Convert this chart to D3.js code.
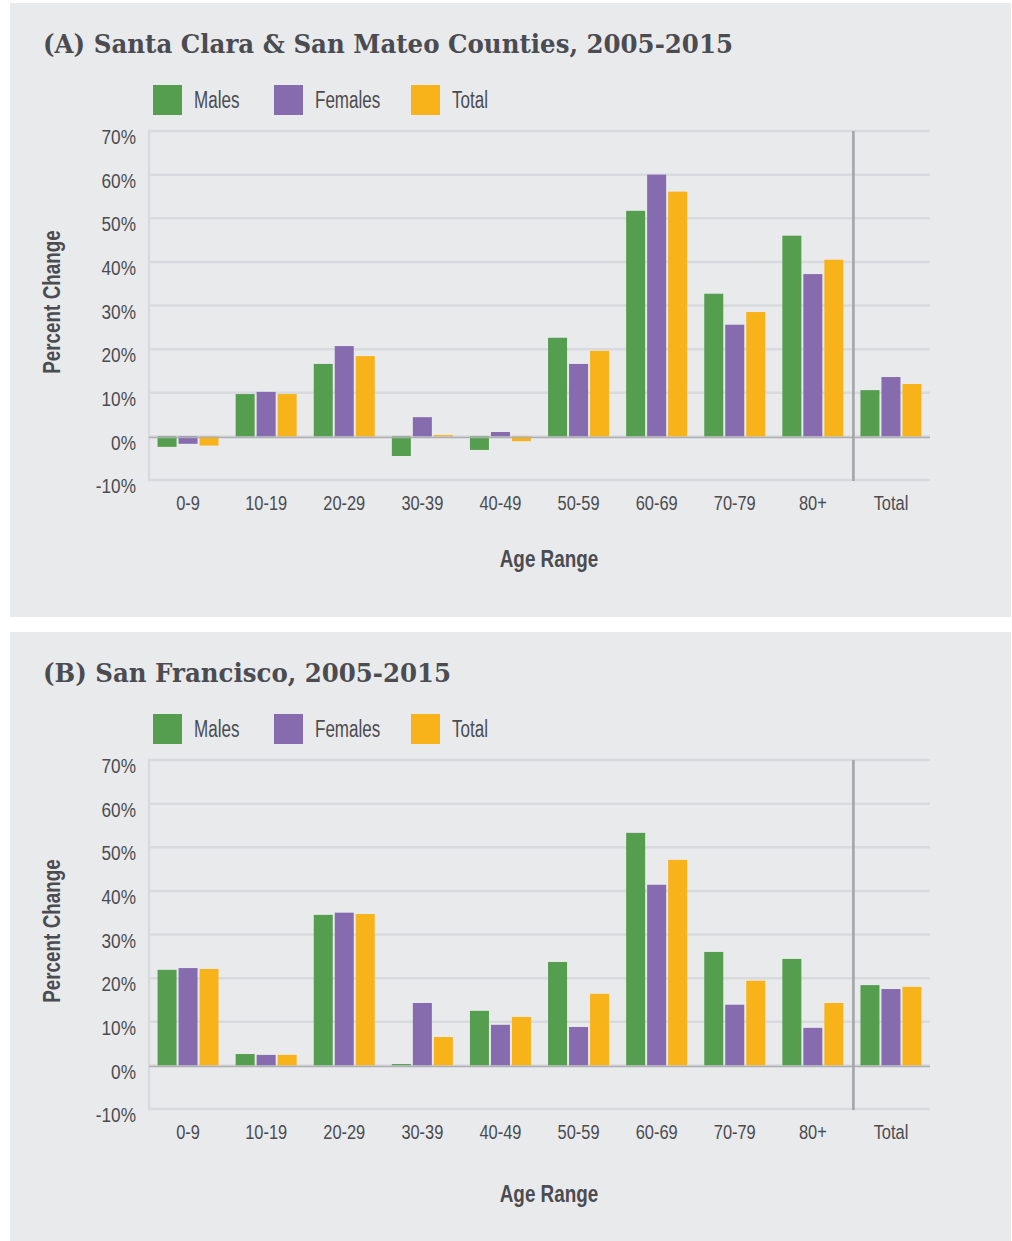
<!DOCTYPE html>
<html>
<head>
<meta charset="utf-8">
<script src="https://cdn.jsdelivr.net/npm/d3@7"></script>
<style>
  html, body { margin: 0; padding: 0; background: #ffffff; }
  svg { display: block; }
  .narrow { font-family: "Liberation Sans", Arial, sans-serif; }
  .slab { font-family: "DejaVu Serif", serif; font-weight: bold; }
</style>
</head>
<body>
<svg id="chart" width="1012" height="1241"></svg>
<script>
// Age ranges along the x axis
const categories = ["0-9", "10-19", "20-29", "30-39", "40-49", "50-59", "60-69", "70-79", "80+", "Total"];
const seriesNames = ["Males", "Females", "Total"];
const yTicks = [-10, 0, 10, 20, 30, 40, 50, 60, 70];

// Percent change 2005-2015, Santa Clara & San Mateo Counties
const scsmMales   = [-2.4, 9.7, 16.6, -4.5, -3.1, 22.6, 51.7, 32.7, 46.0, 10.6];
const scsmFemales = [-1.7, 10.2, 20.7, 4.4, 1.0, 16.6, 60.0, 25.6, 37.2, 13.6];
const scsmTotal   = [-2.1, 9.7, 18.4, 0.3, -1.1, 19.6, 56.1, 28.5, 40.5, 12.0];

// Percent change 2005-2015, San Francisco
const sfMales   = [21.9, 2.6, 34.5, 0.3, 12.5, 23.7, 53.3, 26.0, 24.4, 18.4];
const sfFemales = [22.3, 2.4, 35.0, 14.3, 9.3, 8.8, 41.4, 13.9, 8.6, 17.5];
const sfTotal   = [22.1, 2.4, 34.7, 6.5, 11.1, 16.4, 47.1, 19.4, 14.3, 18.0];

const panels = [
  { title: "(A) Santa Clara & San Mateo Counties, 2005-2015", titleWidth: 690, xTitleY: 567, values: [scsmMales, scsmFemales, scsmTotal] },
  { title: "(B) San Francisco, 2005-2015", titleWidth: 408, xTitleY: 573, values: [sfMales, sfFemales, sfTotal] }
];

const colors = d3.scaleOrdinal().domain(seriesNames).range(["#559e4f", "#866bae", "#f8b21a"]);
const textColor = "#4b4c51";

const svg = d3.select("#chart");
const panelStep = 629;

// Shared horizontal scales
const x0 = d3.scaleBand().domain(categories).range([149, 930]).paddingInner(0).paddingOuter(0);
const groupW = 61;
const x1 = d3.scaleBand().domain(seriesNames)
  .range([(x0.bandwidth() - groupW) / 2, (x0.bandwidth() + groupW) / 2])
  .paddingInner(2 / 21).paddingOuter(0);

panels.forEach((p, i) => {
  const top = i * panelStep;
  const g = svg.append("g").attr("transform", `translate(0,${top})`);

  // Panel background
  g.append("rect")
    .attr("x", 10).attr("y", 3)
    .attr("width", 1001).attr("height", i === 0 ? 614 : 612)
    .attr("fill", "#e9eaec");

  // Title
  g.append("text")
    .attr("class", "slab")
    .attr("x", 43).attr("y", 53)
    .attr("fill", textColor)
    .attr("font-size", 26.5)
    .attr("textLength", p.titleWidth)
    .attr("lengthAdjust", "spacingAndGlyphs")
    .text(p.title);

  // Legend
  const legendX = [153, 274, 411];
  seriesNames.forEach((s, k) => {
    g.append("rect")
      .attr("x", legendX[k]).attr("y", 85)
      .attr("width", 29).attr("height", 30)
      .attr("fill", colors(s));
    g.append("text")
      .attr("class", "narrow")
      .attr("data-sx", 0.74)
      .attr("x", legendX[k] + 41).attr("y", 107.5)
      .attr("font-size", 23)
      .attr("fill", textColor)
      .text(s);
  });

  const y = d3.scaleLinear().domain([-10, 70]).range([480, 131]);

  // Horizontal gridlines
  g.append("g").selectAll("line")
    .data(yTicks)
    .join("line")
    .attr("x1", 149).attr("x2", 930)
    .attr("y1", d => y(d)).attr("y2", d => y(d))
    .attr("stroke", "#d9dadd")
    .attr("stroke-width", 2.5);

  // Left axis line
  g.append("line")
    .attr("x1", 149).attr("x2", 149)
    .attr("y1", y(70) - 1.25).attr("y2", y(-10) + 1.25)
    .attr("stroke", "#d9dadd")
    .attr("stroke-width", 2.5);

  // Y tick labels
  const yAxis = d3.axisLeft(y).tickValues(yTicks).tickSize(0).tickPadding(0).tickFormat(d => d + "%");
  const ya = g.append("g").attr("transform", "translate(136,0)").call(yAxis);
  ya.select(".domain").remove();
  ya.selectAll("text")
    .attr("class", "narrow")
    .attr("data-sx", 0.84)
    .attr("font-size", 20.5)
    .attr("fill", textColor)
    .attr("dy", "0.62em");

  // Bars
  const rows = categories.map((c, ci) => ({ cat: c, vals: seriesNames.map((s, si) => ({ s, v: p.values[si][ci] })) }));
  g.append("g").selectAll("g")
    .data(rows)
    .join("g")
    .attr("transform", d => `translate(${x0(d.cat)},0)`)
    .selectAll("rect")
    .data(d => d.vals)
    .join("rect")
    .attr("x", d => x1(d.s))
    .attr("width", x1.bandwidth())
    .attr("y", d => y(Math.max(0, d.v)))
    .attr("height", d => Math.abs(y(d.v) - y(0)))
    .attr("fill", d => colors(d.s));

  // Zero baseline
  g.append("line")
    .attr("x1", 149).attr("x2", 930)
    .attr("y1", y(0) + 1).attr("y2", y(0) + 1)
    .attr("stroke", "#adaeb2")
    .attr("stroke-width", 1.5);

  // Divider before the overall total
  const divX = x0("Total") + 1.5;
  g.append("line")
    .attr("x1", divX).attr("x2", divX)
    .attr("y1", y(70)).attr("y2", y(-10) + 1)
    .attr("stroke", "#a6a7ab")
    .attr("stroke-width", 2.7);

  // X tick labels
  const xAxis = d3.axisBottom(x0).tickSize(0).tickPadding(0);
  const xa = g.append("g").attr("transform", "translate(0,510)").call(xAxis);
  xa.select(".domain").remove();
  xa.selectAll("text")
    .attr("class", "narrow")
    .attr("data-sx", 0.82)
    .attr("font-size", 20)
    .attr("fill", textColor)
    .attr("dy", 0);

  // Axis titles
  g.append("text")
    .attr("class", "narrow")
    .attr("data-sx", 0.82)
    .attr("x", 549).attr("y", p.xTitleY)
    .attr("text-anchor", "middle")
    .attr("font-size", 23)
    .attr("font-weight", "bold")
    .attr("fill", textColor)
    .text("Age Range");

  g.append("text")
    .attr("class", "narrow")
    .attr("data-sx", 0.82)
    .attr("transform", "translate(60,302) rotate(-90)")
    .attr("text-anchor", "middle")
    .attr("font-size", 23)
    .attr("font-weight", "bold")
    .attr("fill", textColor)
    .text("Percent Change");
});

// Condense the sans-serif labels horizontally
svg.selectAll("text.narrow").each(function () {
  const sx = +this.getAttribute("data-sx") || 0.82;
  const w = this.getComputedTextLength();
  d3.select(this)
    .attr("textLength", (w * sx).toFixed(2))
    .attr("lengthAdjust", "spacingAndGlyphs");
});
</script>
</body>
</html>
